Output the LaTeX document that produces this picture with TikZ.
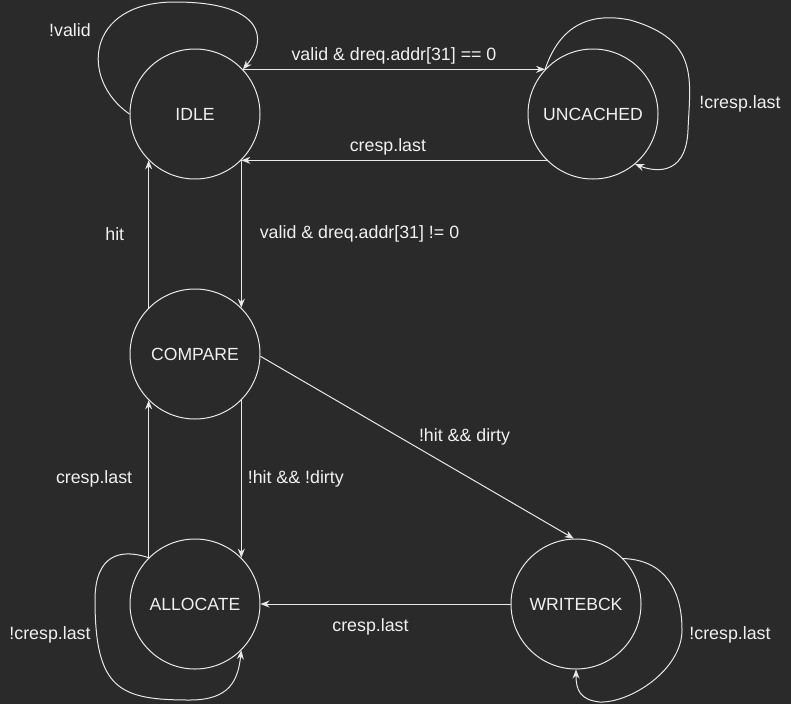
\documentclass[tikz,border=0pt]{standalone}
\usepackage{fontspec}
\setmainfont{Liberation Sans}
\usetikzlibrary{arrows.meta,positioning}
\definecolor{bgdark}{HTML}{2A2A2A}
\definecolor{fgline}{HTML}{E8E8E8}
\definecolor{fgtext}{HTML}{F0F0F0}

\begin{document}
\begin{tikzpicture}[x=1pt,y=-1pt,
	state/.style={circle,draw=fgline,line width=1pt,minimum size=130pt,inner sep=0pt,text=fgtext,font=\fontsize{17.6}{20}\selectfont},
	trans/.style={draw=fgline,line width=1pt,-{Stealth[length=9pt,width=7pt]}},
	lbl/.style={text=fgtext,font=\fontsize{17.8}{20}\selectfont,inner sep=0pt}]
	\fill[bgdark] (0,0) rectangle (791,704);
	\useasboundingbox (0,0) rectangle (791,704);

	% Nodes
	\node[state] (idle) at (195,114) {IDLE};
	\node[state] (uncached) at (593,114) {UNCACHED};
	\node[state] (compare) at (195,354) {COMPARE};
	\node[state] (allocate) at (195,604) {ALLOCATE};
	\node[state] (writebck) at (576,604) {WRITEBCK};

	% Edges
	\draw[trans] (idle.43) -- node[lbl,above=5pt] {valid \& dreq.addr[31] == 0} (uncached.137);
	\draw[trans] (uncached.-135) -- node[lbl,above=5pt,pos=0.52] {cresp.last} (idle.-45);
	\draw[trans] (idle.-45) -- node[lbl,right=18pt] {valid \& dreq.addr[31] != 0} (compare.45);
	\draw[trans] (compare.135) -- node[lbl,left=24pt] {hit} (idle.-135);
	\draw[trans] (compare.-45) -- node[lbl,right=6pt] {!hit \&\& !dirty} (allocate.45);
	\draw[trans] (allocate.135) -- node[lbl,left=16pt] {cresp.last} (compare.-135);
	\draw[trans] (compare.-2) -- node[lbl,above right=2pt] {!hit \&\& dirty} (writebck.92);
	\draw[trans] (writebck.west) -- node[lbl,below=14pt,pos=0.56] {cresp.last} (allocate.east);

	% Self loops
	\draw[trans] (idle.west) .. controls (80,80) and (85,2) .. (175,2)
		.. controls (265,2) and (268,40) .. (idle.43);
	\draw[trans] (uncached.137) .. controls (560,25) and (590,12) .. (630,20)
		.. controls (700,40) and (690,80) .. (688,130)
		.. controls (686,180) and (650,170) .. (uncached.-50);
	\draw[trans] (allocate.135) .. controls (120,548) and (95,555) .. (95,600)
		.. controls (95,690) and (120,700) .. (190,700)
		.. controls (230,700) and (238,680) .. (allocate.-45);
	\draw[trans] (writebck.44) .. controls (665,560) and (682,590) .. (682,630)
		.. controls (682,670) and (630,703) .. (600,702)
		.. controls (580,700) and (576,690) .. (writebck.south);

	% Loop labels
	\node[lbl] (lidle) at (70,30) {!valid};
	\node[lbl] (luncached) at (740,104) {!cresp.last};
	\node[lbl] (lallocate) at (50,635) {!cresp.last};
	\node[lbl] (lwritebck) at (730,635) {!cresp.last};
\end{tikzpicture}
\end{document}
